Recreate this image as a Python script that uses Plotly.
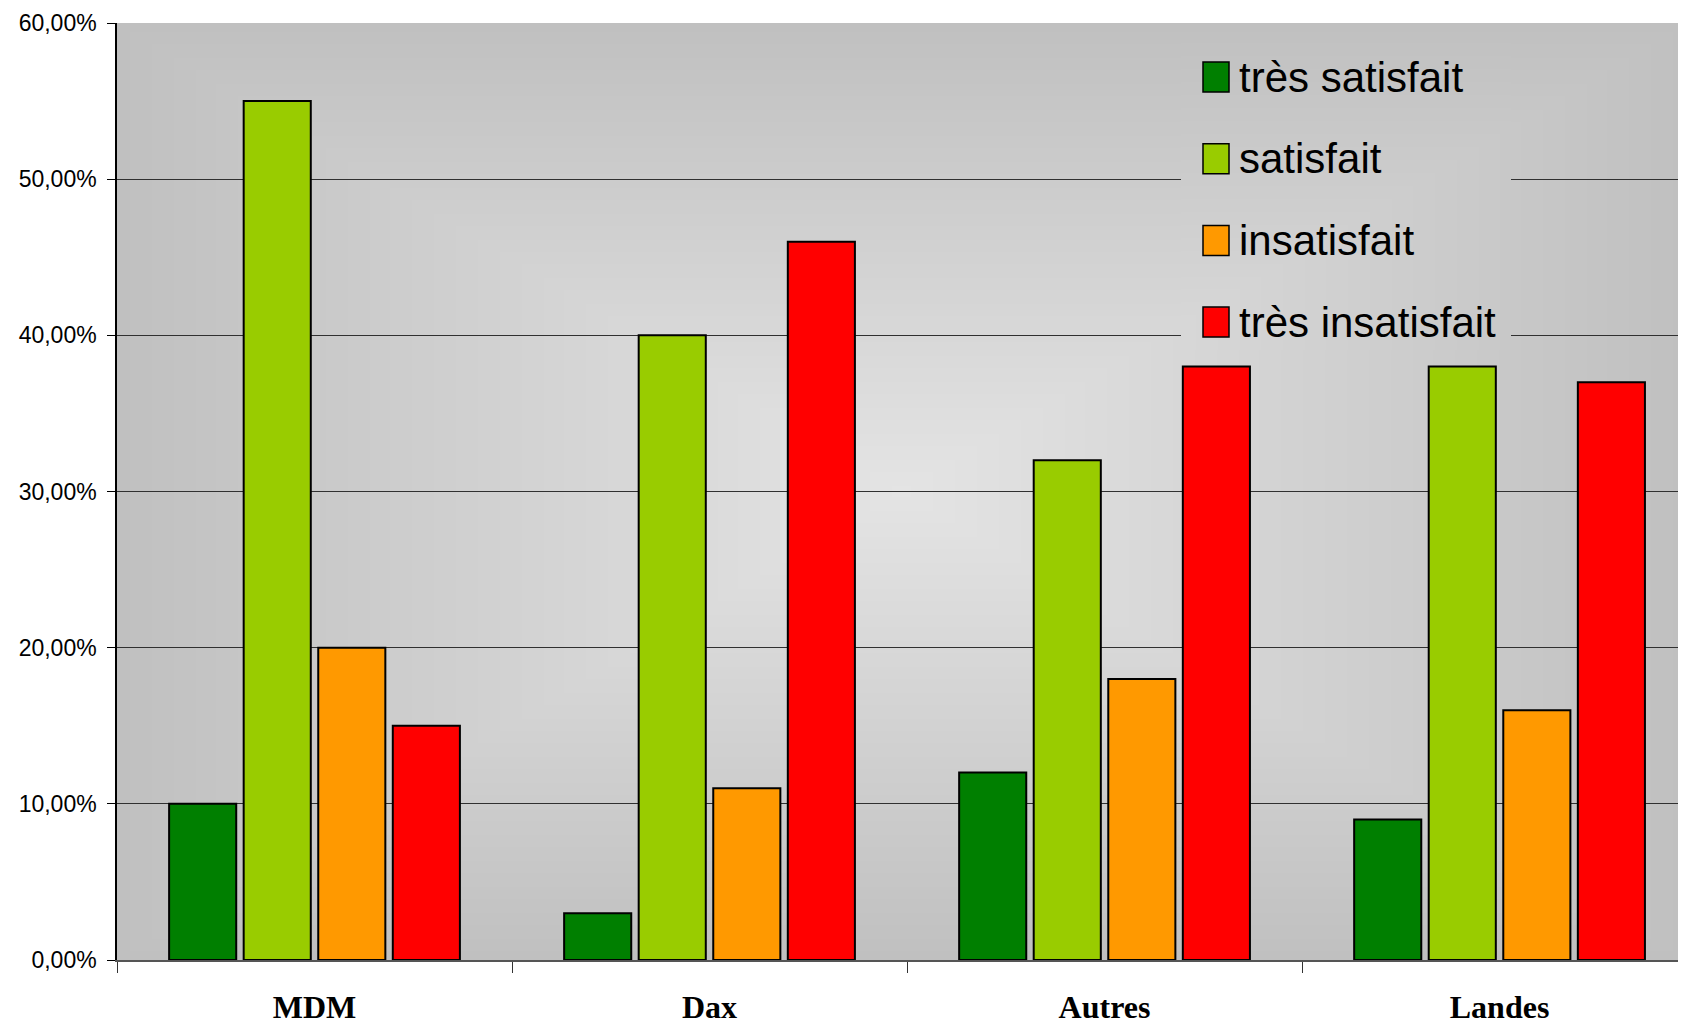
import base64
import struct
import zlib

import numpy as np
import plotly.graph_objects as go

# ---------------- data ----------------
categories = ["MDM", "Dax", "Autres", "Landes"]
series_names = ["très satisfait", "satisfait", "insatisfait", "très insatisfait"]
tres_satisfait = [0.10, 0.03, 0.12, 0.09]
satisfait = [0.55, 0.40, 0.32, 0.38]
insatisfait = [0.20, 0.11, 0.18, 0.16]
tres_insatisfait = [0.15, 0.46, 0.38, 0.37]
y_tick_values = [0.0, 0.1, 0.2, 0.3, 0.4, 0.5, 0.6]

series_values = [tres_satisfait, satisfait, insatisfait, tres_insatisfait]
colors = ["#007f00", "#99cc00", "#ff9900", "#ff0000"]

# ---------------- geometry (screen pixels; page body has an 8px margin) ----------------
OFF = 8
SCREEN_W, SCREEN_H = 1686, 1027
PLOT_L, PLOT_R, PLOT_T, PLOT_B = 117, 1686, 23, 960   # plot area on screen
W = SCREEN_W - OFF
H = SCREEN_H - OFF
ML = PLOT_L - OFF
MT = PLOT_T - OFF
MR = W - (PLOT_R - OFF)
MB = H - (PLOT_B - OFF)
PW = PLOT_R - PLOT_L
PH = PLOT_B - PLOT_T


def gradient(x0, x1, y0, y1, nx, ny):
    """Rectangular 'from centre' gray gradient, evaluated in plot-pixel space."""
    xs = np.linspace(x0, x1, nx)
    ys = np.linspace(y0, y1, ny)
    X, Y = np.meshgrid(xs, ys)
    cx, cy = PW / 2.0, PH / 2.0
    t = np.maximum(np.abs(X - cx) / cx, np.abs(Y - cy) / cy)
    t = np.clip(t, 0, 1)
    v = 228 + (192 - 228) * t
    v = np.clip(np.round(v), 0, 255).astype(np.uint8)
    return np.stack([v, v, v], axis=-1)


def png_uri(arr):
    h, w, _ = arr.shape
    raw = b"".join(b"\x00" + arr[i].tobytes() for i in range(h))

    def chunk(tag, data):
        return (struct.pack(">I", len(data)) + tag + data
                + struct.pack(">I", zlib.crc32(tag + data) & 0xFFFFFFFF))

    ihdr = struct.pack(">IIBBBBB", w, h, 8, 2, 0, 0, 0)
    png = (b"\x89PNG\r\n\x1a\n" + chunk(b"IHDR", ihdr)
           + chunk(b"IDAT", zlib.compress(raw, 9)) + chunk(b"IEND", b""))
    return "data:image/png;base64," + base64.b64encode(png).decode()


def px_x(X):
    return (X - PLOT_L) / PW


def px_y(Y):
    return 1 - (Y - PLOT_T) / PH


fig = go.Figure()
for name, vals, col in zip(series_names, series_values, colors):
    fig.add_trace(go.Bar(
        x=categories, y=vals, name=name,
        marker=dict(color=col, line=dict(color="#000000", width=2)),
        showlegend=False,
    ))

# background gradient
bg = gradient(0, PW, 0, PH, PW // 2, PH // 2)
images = [dict(source=png_uri(bg), xref="paper", yref="paper", x=0, y=1,
               sizex=1, sizey=1, sizing="stretch", xanchor="left",
               yanchor="top", layer="below")]

# legend background (hides the gridlines behind the legend)
LX0, LX1, LY0, LY1 = 1181, 1511, 40, 350
leg = gradient(LX0 - PLOT_L, LX1 - PLOT_L, LY0 - PLOT_T, LY1 - PLOT_T,
               LX1 - LX0, LY1 - LY0)
images.append(dict(source=png_uri(leg), xref="paper", yref="paper",
                   x=px_x(LX0), y=px_y(LY0), sizex=(LX1 - LX0) / PW,
                   sizey=(LY1 - LY0) / PH, sizing="stretch",
                   xanchor="left", yanchor="top", layer="above"))

# legend entries
shapes = []
annotations = []
item_first = 77
item_step = 81.7
for i, (name, col) in enumerate(zip(series_names, colors)):
    yc = item_first + i * item_step
    shapes.append(dict(type="rect", xref="paper", yref="paper",
                       x0=px_x(1203), x1=px_x(1229), y0=px_y(yc - 15),
                       y1=px_y(yc + 15), fillcolor=col,
                       line=dict(color="#000000", width=1.5), layer="above"))
    annotations.append(dict(text=name, xref="paper", yref="paper",
                            x=px_x(1237), y=px_y(yc), xanchor="left",
                            yanchor="middle", showarrow=False,
                            font=dict(family="Liberation Sans Narrow, Arial Narrow, Liberation Sans, sans-serif",
                                      size=42, color="#000000")))

fig.update_layout(
    width=W, height=H,
    margin=dict(l=ML, r=MR, t=MT, b=MB, pad=0),
    paper_bgcolor="#ffffff",
    plot_bgcolor="rgba(0,0,0,0)",
    separators=", ",
    barmode="group",
    bargap=0.245,
    bargroupgap=0.1,
    images=images,
    shapes=shapes,
    annotations=annotations,
    showlegend=False,
)

fig.update_xaxes(
    type="category",
    range=[-0.5, 3.472],
    tickson="boundaries",
    ticks="outside", ticklen=11, tickcolor="#333333", tickwidth=1,
    showline=True, linecolor="#555555", linewidth=2,
    showgrid=False,
    tickfont=dict(family="Liberation Serif, Times New Roman, serif",
                  size=32, color="#000000", weight="bold"),
    ticklabelstandoff=18,
)

fig.update_yaxes(
    range=[0, 0.6],
    tickvals=y_tick_values,
    tickformat=".2%",
    ticks="outside", ticklen=8, tickcolor="#000000", tickwidth=1,
    showline=True, linecolor="#000000", linewidth=1.5,
    showgrid=True, gridcolor="#303030", gridwidth=1,
    zeroline=False,
    tickfont=dict(family="Liberation Sans, Arial, sans-serif", size=23,
                  color="#000000"),
    ticklabelstandoff=6,
)

fig.write_html("out.html")
